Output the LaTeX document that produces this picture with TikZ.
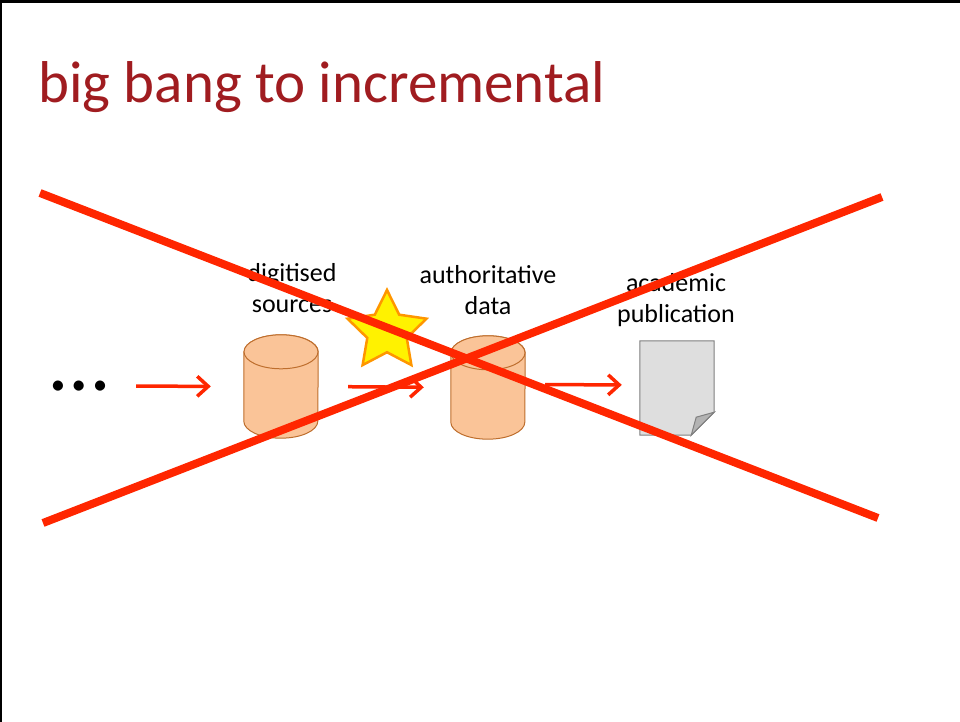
\documentclass[tikz,border=0pt]{standalone}
\usepackage{fontspec}
\setmainfont{Carlito}
\usetikzlibrary{arrows.meta,shapes.geometric}
\definecolor{titlered}{RGB}{160,28,32}
\definecolor{crossred}{RGB}{255,38,0}
\definecolor{dbfill}{RGB}{250,196,152}
\definecolor{dbline}{RGB}{190,110,45}
\definecolor{docfill}{RGB}{222,222,222}
\definecolor{docline}{RGB}{128,128,128}
\begin{document}
\begin{tikzpicture}[x=1pt,y=1pt,
  box/.style={minimum width=74pt,minimum height=#1,inner sep=0pt},
  db/.style={fill=dbfill,draw=dbline,line width=1pt},
  flow/.style={draw=crossred,line width=3.5pt,-{Straight Barb[length=11pt,width=20pt]}},
  label/.style={font=\fontsize{26}{31}\selectfont,align=center,anchor=base},
  cross/.style={draw=crossred,line width=8pt}]
\useasboundingbox (0,0) rectangle (960,722);
\draw[line width=3pt] (0,720.5) -- (960,720.5);
\draw[line width=2pt] (1,0) -- (1,722);
%
\node[anchor=base west,text=titlered,inner sep=0pt,font=\fontsize{59}{70}\selectfont]
  (title) at (38,619) {big bang to incremental};
%
\node[inner sep=0pt,font=\fontsize{84}{84}\selectfont] (dots) at (79,336) {…};
\node[box=103pt] (src)  at (281,335.5) {};
\node[box=103pt] (auth) at (488,334.5) {};
\node[box=94pt]  (pub)  at (677,334)   {};
%
\foreach \c in {src,auth}{
  \filldraw[db] (\c.north west) ++(0,-17) -- ([yshift=17pt]\c.south west)
    arc[start angle=180,end angle=360,x radius=37,y radius=17]
    -- ([yshift=-17pt]\c.north east)
    arc[start angle=0,end angle=180,x radius=37,y radius=17] -- cycle;
  \draw[db] ([yshift=-17pt]\c.north) ellipse[x radius=37,y radius=17];
}
\filldraw[fill=docfill,draw=docline,line width=1pt]
  (pub.north west) -- (pub.north east) -- ([yshift=23pt]pub.south east)
  -- ([xshift=-23pt]pub.south east) -- (pub.south west) -- cycle;
\filldraw[fill=docline!60,draw=docline,line width=1pt]
  ([yshift=23pt]pub.south east) -- ([xshift=-23pt]pub.south east)
  -- ([xshift=-18pt,yshift=18pt]pub.south east) -- cycle;
%
\node[label] (srclabel)  at (292,409) {digitised\\sources};
\node[label] (authlabel) at (488,407) {authoritative\\data};
\node[label] (publabel)  at (676,399) {academic\\publication};
%
\draw[flow,shorten <=28pt,shorten >=33pt] (dots.east) -- (src.west);
\draw[flow,shorten <=30pt,shorten >=27pt] (src.east) -- (auth.west);
\draw[flow,shorten <=20pt,shorten >=18pt] ([yshift=3pt]auth.east) -- ([yshift=3pt]pub.west);
%
\node[star,star points=5,star point ratio=2.0,minimum size=83pt,inner sep=0pt,
  fill=yellow,draw={rgb,255:red,255;green,150;blue,0},line width=2.5pt]
  (bang) at (387,390.5) {};
%
\draw[cross] (40,529) -- (878,204);
\draw[cross] (43,199) -- (882,525);
\end{tikzpicture}
\end{document}
